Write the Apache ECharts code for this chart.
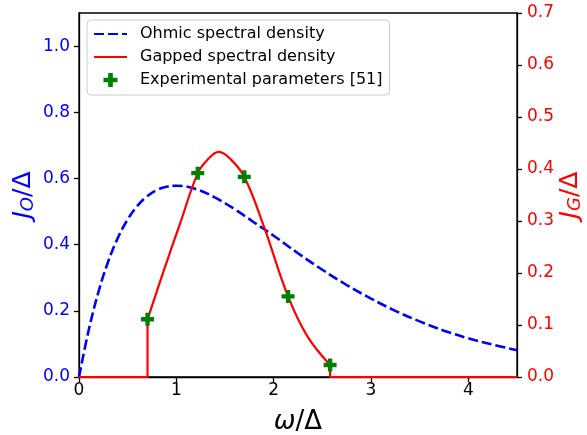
<!DOCTYPE html>
<html>
<head>
<meta charset="utf-8">
<script src="https://cdn.jsdelivr.net/npm/echarts@6/dist/echarts.min.js"></script>
<style>
  html, body { margin: 0; padding: 0; background: #fff; }
  #chart { width: 587px; height: 435px; }
</style>
</head>
<body>
<div id="chart"></div>
<script>
// 欧姆谱密度 (左轴)
const ohmicX = [0, 0.1, 0.2, 0.3, 0.4, 0.5, 0.6, 0.7, 0.8, 0.9, 1.0, 1.2, 1.4, 1.6, 1.8, 2.0, 2.25, 2.5, 2.75, 3.0, 3.25, 3.5, 3.75, 4.0, 4.25, 4.5]
const ohmicY = [0, 0.142, 0.257, 0.349, 0.421, 0.476, 0.517, 0.546, 0.565, 0.575, 0.578, 0.568, 0.542, 0.507, 0.467, 0.427, 0.374, 0.324, 0.278, 0.237, 0.200, 0.168, 0.140, 0.117, 0.098, 0.081]
// 带隙谱密度 (右轴)
const gappedX = [0.704, 0.87, 1.04, 1.22, 1.316, 1.436, 1.557, 1.698, 1.90, 2.148, 2.347, 2.58]
const gappedY = [0.111, 0.204, 0.296, 0.392, 0.417, 0.433, 0.419, 0.385, 0.289, 0.155, 0.078, 0.023]
// 实验参数点
const expX = [0.704, 1.22, 1.698, 2.148, 2.58]
const expY = [0.111, 0.392, 0.385, 0.155, 0.023]

const pair = (xs, ys) => xs.map((x, i) => [x, ys[i]])
const plusPath = 'path://M-1,-3H1V-1H3V1H1V3H-1V1H-3V-1H-1Z'
const font = 'DejaVu Sans'

const chart = echarts.init(document.getElementById('chart'))
const option = {
  backgroundColor: '#fff',
  animation: false,
  grid: {
    left: 79, right: 70, top: 13, bottom: 58,
    outerBoundsMode: 'none', containLabel: false,
    show: true, borderColor: '#000', borderWidth: 1.3, backgroundColor: 'transparent'
  },
  legend: {
    orient: 'vertical',
    left: 87, top: 20,
    itemWidth: 33, itemHeight: 14, itemGap: 5,
    padding: [5, 7, 6, 6],
    borderColor: '#cccccc', borderWidth: 1, borderRadius: 4,
    backgroundColor: 'rgba(255,255,255,0.8)',
    textStyle: { fontFamily: font, fontSize: 16, lineHeight: 18, color: '#000', padding: [0, 0, 0, 8] },
    data: [
      { name: 'Ohmic spectral density', itemStyle: { opacity: 0 } },
      { name: 'Gapped spectral density', itemStyle: { opacity: 0 } },
      { name: 'Experimental parameters [51]' }
    ]
  },
  xAxis: {
    type: 'value', min: 0, max: 4.5, interval: 1,
    name: '{i|ω}{n|/Δ}', nameLocation: 'middle', nameGap: 32, nameMoveOverlap: false,
    nameTextStyle: {
      rich: {
        i: { fontFamily: font, fontSize: 26, fontStyle: 'italic', color: '#000' },
        n: { fontFamily: font, fontSize: 26, color: '#000' }
      }
    },
    axisLine: { lineStyle: { color: '#000', width: 1.3 } },
    axisTick: { length: 5, lineStyle: { color: '#000', width: 1.3 } },
    axisLabel: { fontFamily: font, fontSize: 17, color: '#000', margin: 5, showMaxLabel: false },
    splitLine: { show: false }
  },
  yAxis: [
    {
      type: 'value', min: 0, max: 1.1, interval: 0.2,
      name: '{i|J}{s|O}{n|/Δ}', nameLocation: 'middle', nameGap: 42, nameRotate: 90, nameMoveOverlap: false,
      nameTextStyle: {
        rich: {
          i: { fontFamily: font, fontSize: 25, fontStyle: 'italic', color: '#0000ff' },
          s: { fontFamily: font, fontSize: 18, fontStyle: 'italic', color: '#0000ff', verticalAlign: 'bottom', padding: [9, 0, 0, 0] },
          n: { fontFamily: font, fontSize: 25, color: '#0000ff' }
        }
      },
      axisLine: { show: true, lineStyle: { color: '#000', width: 1.3 } },
      axisTick: { show: true, length: 5, lineStyle: { color: '#000', width: 1.3 } },
      axisLabel: {
        fontFamily: font, fontSize: 17, color: '#0000ff', margin: 9, showMaxLabel: false,
        formatter: v => v.toFixed(1)
      },
      splitLine: { show: false }
    },
    {
      type: 'value', min: 0, max: 0.7, interval: 0.1, position: 'right',
      name: '{i|J}{s|G}{n|/Δ}', nameLocation: 'middle', nameGap: 40, nameRotate: 90, nameMoveOverlap: false,
      nameTextStyle: {
        rich: {
          i: { fontFamily: font, fontSize: 25, fontStyle: 'italic', color: '#ff0000' },
          s: { fontFamily: font, fontSize: 18, fontStyle: 'italic', color: '#ff0000', verticalAlign: 'bottom', padding: [9, 0, 0, 0] },
          n: { fontFamily: font, fontSize: 25, color: '#ff0000' }
        }
      },
      axisLine: { show: true, lineStyle: { color: '#000', width: 1.3 } },
      axisTick: { show: true, length: 5, lineStyle: { color: '#000', width: 1.3 } },
      axisLabel: {
        fontFamily: font, fontSize: 17, color: '#ff0000', margin: 10,
        formatter: v => v.toFixed(1)
      },
      splitLine: { show: false }
    }
  ],
  series: [
    {
      name: 'Ohmic spectral density', type: 'line', yAxisIndex: 0,
      smooth: 0.4, showSymbol: false, symbol: 'none',
      data: pair(ohmicX, ohmicY),
      lineStyle: { color: '#0000ff', width: 2.6, type: [10, 4] },
      itemStyle: { color: '#0000ff' },
      z: 2
    },
    {
      name: 'Gapped spectral density', type: 'line', yAxisIndex: 1,
      smooth: 0.4, showSymbol: false, symbol: 'none',
      data: pair(gappedX, gappedY),
      lineStyle: { color: '#ff0000', width: 2.2 },
      itemStyle: { color: '#ff0000' },
      z: 3
    },
    {
      name: 'Gapped spectral density', type: 'line', yAxisIndex: 1,
      showSymbol: false, symbol: 'none',
      data: [[0, 0], [gappedX[0], 0], [gappedX[0], gappedY[0]]],
      lineStyle: { color: '#ff0000', width: 2.2 },
      itemStyle: { color: '#ff0000' },
      z: 3
    },
    {
      name: 'Gapped spectral density', type: 'line', yAxisIndex: 1,
      showSymbol: false, symbol: 'none',
      data: [[gappedX[gappedX.length - 1], gappedY[gappedY.length - 1]], [gappedX[gappedX.length - 1], 0], [4.5, 0]],
      lineStyle: { color: '#ff0000', width: 2.2 },
      itemStyle: { color: '#ff0000' },
      z: 3
    },
    {
      name: 'Experimental parameters [51]', type: 'scatter', yAxisIndex: 1,
      symbol: plusPath, symbolSize: 13,
      data: pair(expX, expY),
      itemStyle: { color: '#008000', opacity: 1 },
      z: 4
    }
  ]
}
chart.setOption(option)
</script>
</body>
</html>
